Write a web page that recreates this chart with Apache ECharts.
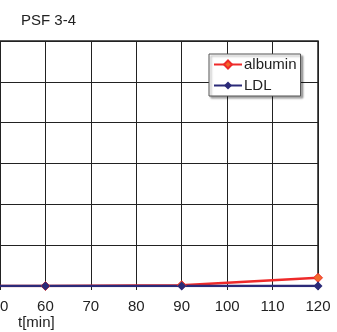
<!DOCTYPE html>
<html><head><meta charset="utf-8">
<script src="https://cdn.jsdelivr.net/npm/echarts@6/dist/echarts.min.js"></script>
<style>html,body{margin:0;padding:0;background:#fff}#c{width:337px;height:332px}</style>
</head><body><div id="c"></div>
<script>
const times = [30, 60, 90, 120];
const albumin = [0, 0, 0.02, 0.2];
const ldl = [0, 0, 0, 0];
const xTicks = [50, 60, 70, 80, 90, 100, 110, 120];

const chart = echarts.init(document.getElementById('c'));
const font = 'Liberation Sans, Arial, sans-serif';
chart.setOption({
  animation: false,
  title: { text: 'PSF 3-4', left: 16, top: 8, textStyle: { fontFamily: font, fontSize: 15, fontWeight: 'normal', color: '#222' } },
  grid: { left: 0, right: 19, top: 41, bottom: 46, show: true, borderColor: '#222', borderWidth: 1.5, backgroundColor: 'transparent', containLabel: false, outerBoundsMode: 'none' },
  legend: {
    left: 209, top: 54, orient: 'vertical', itemGap: 6, itemWidth: 28, itemHeight: 10,
    backgroundColor: '#fff', borderColor: '#555', borderWidth: 1, padding: [3, 4, 3, 4],
    shadowColor: 'rgba(0,0,0,0.35)', shadowOffsetX: 2, shadowOffsetY: 2, shadowBlur: 2,
    textStyle: { fontFamily: font, fontSize: 15, color: '#222', padding: [0, 0, 0, -3] },
    data: ['albumin', 'LDL']
  },
  xAxis: {
    type: 'value', min: 50, max: 120, interval: 10,
    axisLine: { show: true, lineStyle: { color: '#222', width: 1.5 } },
    axisTick: { show: true, length: 4, lineStyle: { color: '#222' } },
    axisLabel: { fontFamily: font, fontSize: 15, color: '#222', margin: 13, formatter: v => xTicks.includes(v) ? String(v) : '' },
    splitLine: { show: true, lineStyle: { color: '#222', width: 1 } }
  },
  yAxis: {
    type: 'value', min: 0, max: 6, interval: 1,
    axisLine: { show: false }, axisTick: { show: false }, axisLabel: { show: false },
    splitLine: { show: true, lineStyle: { color: '#222', width: 1 } }
  },
  graphic: [{ type: 'text', left: 18, top: 315, style: { text: 't[min]', fontFamily: font, fontSize: 15, fill: '#222' } }],
  series: [
    { name: 'albumin', type: 'line', data: times.map((t, i) => [t, albumin[i]]),
      symbol: 'diamond', symbolSize: 9, lineStyle: { color: '#ee2a2a', width: 2.5 },
      itemStyle: { color: '#f26a2a', borderColor: '#ee2a2a', borderWidth: 1 } },
    { name: 'LDL', type: 'line', data: times.map((t, i) => [t, ldl[i]]),
      symbol: 'diamond', symbolSize: 9, lineStyle: { color: '#2b2a78', width: 2.5 },
      itemStyle: { color: '#2b2a78' } }
  ]
});
</script></body></html>
